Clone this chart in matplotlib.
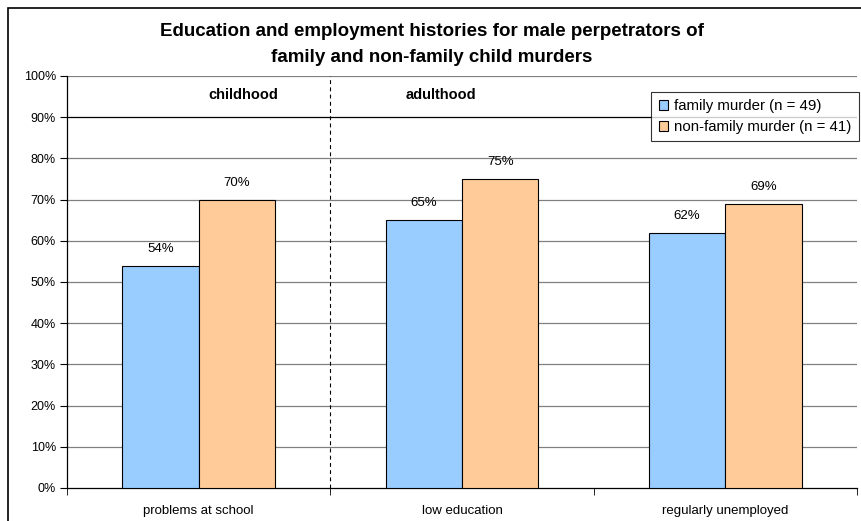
import numpy as np
import matplotlib.pyplot as plt
from matplotlib.patches import Rectangle

categories = ['problems at school', 'low education', 'regularly unemployed']
family = [54, 65, 62]
non_family = [70, 75, 69]
family_label = 'family murder (n = 49)'
non_family_label = 'non-family murder (n = 41)'
yticks = np.arange(0, 101, 10)

plt.rcParams['font.family'] = ['Liberation Sans', 'DejaVu Sans']

fig = plt.figure(figsize=(8.61, 5.21), dpi=100)
W, H = 861, 521

# outer frame of the chart area
fig.patches.append(Rectangle((8 / W, -0.05), 1.0, 1 - 8 / H + 0.05,
                             transform=fig.transFigure, fill=False,
                             edgecolor='black', linewidth=1.2))

ax = fig.add_axes([67 / W, 33 / H, 790 / W, 412 / H])

x = np.arange(len(categories))
w = 0.29
ax.bar(x - w / 2, family, w, color='#99CCFF', edgecolor='black',
       linewidth=0.8, label=family_label, zorder=3)
ax.bar(x + w / 2, non_family, w, color='#FFCC99', edgecolor='black',
       linewidth=0.8, label=non_family_label, zorder=3)

for xi, v in zip(x, family):
    ax.text(xi - w / 2, v + 2.6, f'{v}%', ha='center', va='bottom', fontsize=9.5)
for xi, v in zip(x, non_family):
    ax.text(xi + w / 2, v + 2.6, f'{v}%', ha='center', va='bottom', fontsize=9.5)

ax.set_xlim(-0.5, 2.5)
ax.set_ylim(0, 100)
ax.set_yticks(yticks)
ax.set_yticklabels([f'{t}%' for t in yticks], fontsize=9)
ax.set_xticks(x)
ax.set_xticklabels(categories, fontsize=9.5)
ax.tick_params(axis='x', length=0, pad=12)
ax.set_xticks([-0.5, 0.5, 1.5, 2.5], minor=True)
ax.tick_params(axis='x', which='minor', length=5, direction='out')
ax.tick_params(axis='y', length=5, direction='out', pad=3)

for t in yticks[1:]:
    ax.axhline(t, color='black' if t == 90 else '#808080', linewidth=0.9, zorder=1)

ax.axvline(0.5, color='black', linestyle=(0, (3.5, 3)), linewidth=0.8, zorder=2)

ax.text(0.17, 95.3, 'childhood', ha='center', va='center', fontsize=10.5, fontweight='bold')
ax.text(0.92, 95.3, 'adulthood', ha='center', va='center', fontsize=10.5, fontweight='bold')

for s in ['top', 'right']:
    ax.spines[s].set_visible(False)
ax.spines['left'].set_linewidth(0.9)
ax.spines['bottom'].set_linewidth(0.9)

leg = ax.legend(loc='upper right', bbox_to_anchor=(1.002, 0.962), fontsize=10.8,
                frameon=True, fancybox=False, edgecolor='black',
                handlelength=0.65, handleheight=0.65, handletextpad=0.35,
                borderpad=0.5, labelspacing=0.45, borderaxespad=0)
leg.get_frame().set_linewidth(0.8)

fig.text(432 / W, 1 - 32 / H, 'Education and employment histories for male perpetrators of',
         ha='center', va='center', fontsize=13.5, fontweight='bold')
fig.text(432 / W, 1 - 58 / H, 'family and non-family child murders',
         ha='center', va='center', fontsize=13.5, fontweight='bold')

fig.savefig('out.png', dpi=100)
